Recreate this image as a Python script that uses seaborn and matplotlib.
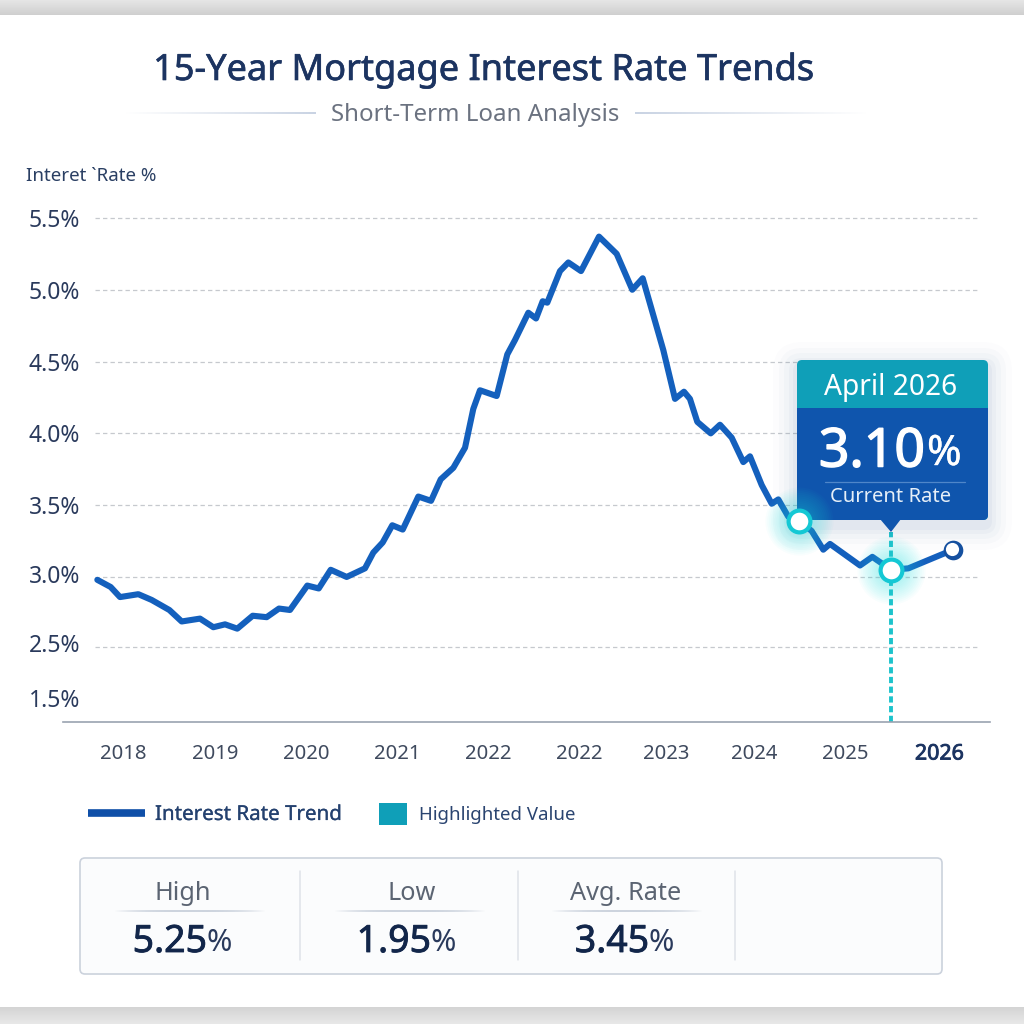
import numpy as np
import pandas as pd
import matplotlib
matplotlib.use("Agg")
import matplotlib.pyplot as plt
import matplotlib.patheffects as pe
import seaborn as sns
from matplotlib.patches import FancyBboxPatch, Rectangle, Polygon
from matplotlib.colors import to_rgb

# ---- data (x is position along the category axis, 0 = first label) ----
period = [-0.283,-0.136,-0.033,0.169,0.316,0.511,0.647,0.849,0.996,1.125,1.260,1.430,1.584,1.720,1.841,
          2.032,2.158,2.290,2.466,2.668,2.760,2.863,2.969,3.084,3.256,3.396,3.503,3.642,3.771,3.862,3.936,
          4.120,4.237,4.322,4.469,4.554,4.627,4.678,4.818,4.910,5.050,5.248,5.443,5.615,5.730,5.957,
          6.086,6.185,6.251,6.332,6.480,6.582,6.711,6.839,6.913,7.042,7.152,7.225,7.335,7.457,7.593,
          7.721,7.795,8.126,8.262,8.468,8.659,9.154]
rate = [2.98,2.93,2.86,2.88,2.84,2.77,2.69,2.71,2.65,2.67,2.64,2.73,2.72,2.78,2.77,
        2.94,2.92,3.05,3.00,3.06,3.17,3.24,3.36,3.33,3.56,3.53,3.68,3.76,3.90,4.17,4.30,
        4.26,4.55,4.65,4.84,4.80,4.92,4.91,5.13,5.19,5.13,5.37,5.25,5.00,5.08,4.58,
        4.24,4.29,4.24,4.08,4.00,4.06,3.97,3.80,3.84,3.64,3.51,3.54,3.42,3.39,3.32,
        3.19,3.23,3.08,3.14,3.05,3.06,3.19]
x_tick_pos = [0, 1.014, 2.018, 3.02, 4.03, 5.03, 5.99, 6.96, 7.96, 9]
x_tick_labels = ["2018","2019","2020","2021","2022","2022","2023","2024","2025","2026"]
y_tick_pos = [5.5, 5.0, 4.5, 4.0, 3.5, 3.02, 2.54, 2.16]
y_tick_labels = ["5.5%","5.0%","4.5%","4.0%","3.5%","3.0%","2.5%","1.5%"]
grid_levels = [5.5, 5.0, 4.5, 4.0, 3.5, 3.0, 2.51]
highlight_x = [7.457, 8.468]
highlight_y = [3.39, 3.05]
end_x = [9.154]
end_y = [3.19]
stat_names = ["High", "Low", "Avg. Rate"]
stat_values = ["5.25", "1.95", "3.45"]

NAVY = "#1c3461"; LINE = "#1460bd"; TEAL = "#0f9fb8"; CYAN = "#14c8d4"; BODY = "#0f55ad"

sns.set_theme(style="white")
plt.rcParams["font.family"] = ["Noto Sans", "DejaVu Sans"]

def heavy(w, color):
    return [pe.withStroke(linewidth=w, foreground=color)]

fig = plt.figure(figsize=(10.24, 10.24), dpi=100, facecolor="white")

deco = fig.add_axes([0, 0, 1, 1], zorder=0)
deco.axis("off")
deco.set_xlim(0, 1024); deco.set_ylim(1024, 0)
pix = deco.transData

def vband(y0, y1, c0, c1):
    c0, c1 = np.array(to_rgb(c0)), np.array(to_rgb(c1))
    t = np.linspace(0, 1, 32)[:, None, None]
    deco.imshow(c0 + (c1 - c0) * t, extent=(0, 1024, y1, y0), aspect="auto", zorder=0)

def hfade(x0, x1, y, color, mode, h=2.0):
    t = np.linspace(0, 1, 128)
    a = {"in": t, "out": 1 - t, "both": np.clip(1 - np.abs(2 * t - 1) ** 3, 0, 1)}[mode]
    img = np.ones((1, 128, 4)); img[..., :3] = to_rgb(color); img[..., 3] = a
    deco.imshow(img, extent=(x0, x1, y + h / 2, y - h / 2), aspect="auto", zorder=1)

vband(0, 15, "#e6e6e6", "#cfcfcf")
vband(1007, 1024, "#d4d4d4", "#e8e8e8")
hfade(125, 316, 113, "#c9d3e3", "in")
hfade(635, 868, 113, "#c9d3e3", "out")

# ---- main chart ----
ax = fig.add_axes([63/1024, (1024-722)/1024, (990-63)/1024, (722-200)/1024], zorder=1)
ax.patch.set_visible(False)
df = pd.DataFrame({"period": period, "rate": rate})
ax.hlines(grid_levels, -0.309, 9.45, colors="#c6c9ce", linestyles=(0, (3.5, 2.5)), linewidth=0.9, zorder=1)
sns.lineplot(data=df, x="period", y="rate", ax=ax, color=LINE, linewidth=4.4, errorbar=None,
             solid_joinstyle="round", solid_capstyle="round", zorder=3)
ax.set_xlim(-0.6615, 9.559)
ax.set_ylim(1.99, 5.625)
sns.despine(ax=ax, left=True)
ax.spines["bottom"].set_color("#9aa3b0"); ax.spines["bottom"].set_linewidth(1.2)

ax.set_xticks(x_tick_pos, x_tick_labels)
ax.set_yticks(y_tick_pos, y_tick_labels)
ax.tick_params(axis="x", length=0, pad=15.5, labelsize=14.6, labelcolor="#3f4a5e")
ax.tick_params(axis="y", length=0, pad=-12.5, labelsize=16.5, labelcolor="#2a3a5c")
xl = ax.get_xticklabels()[-1]
xl.set_color(NAVY); xl.set_fontsize(15.4); xl.set_path_effects(heavy(0.6, NAVY))
ax.set_title("15-Year Mortgage Interest Rate Trends", x=(484-63)/927, y=(722-71)/522, va="center",
             fontsize=26, color=NAVY, pad=0, path_effects=heavy(0.45, NAVY))
deco.text(475, 115, "Short-Term Loan Analysis", ha="center", va="center", fontsize=17.3, color="#6b7280")

# vertical guide
ax.vlines(highlight_x[1], 1.99, 3.31, colors="#1cc3cc", linewidth=2.8, linestyles=(0, (1.6, 0.9)), zorder=2)

# ---- callout ----
box = dict(boxstyle="round,pad=0,rounding_size=5", transform=pix)
for grow, al in zip([24, 18, 13, 8, 4], [0.012, 0.018, 0.025, 0.03, 0.04]):
    ax.add_patch(FancyBboxPatch((797-grow, 360-grow+6), 191+2*grow, 160+2*grow,
                                boxstyle=f"round,pad=0,rounding_size={5+grow}", transform=pix, clip_on=False,
                                facecolor="#1f4f8f", edgecolor="none", alpha=al, zorder=4))
headp = FancyBboxPatch((797, 360), 191, 160, facecolor=TEAL, edgecolor="none", zorder=5, clip_on=False, **box)
ax.add_patch(headp)
bodyp = FancyBboxPatch((797, 360), 191, 160, facecolor=BODY, edgecolor="none", zorder=5.1, **box)
ax.add_patch(bodyp)
bodyp.set_clip_box(Rectangle((790, 407.5), 210, 120, transform=pix).get_window_extent(fig.canvas.get_renderer()))
ax.add_patch(Polygon([(880, 519), (901, 519), (891, 532)], closed=True, facecolor=BODY, edgecolor="none",
                     transform=pix, clip_on=False, zorder=5.1))
ax.plot([825, 965], [482, 482], color="#4f86c9", lw=0.9, transform=pix, clip_on=False, zorder=5.2)
tt = dict(transform=pix, color="white", zorder=5.3, va="center", clip_on=False)
ax.text(891, 387, "April 2026", ha="center", fontsize=20.3, **tt)
ax.text(925, 453, "3.10", ha="right", fontsize=38.5, path_effects=heavy(1.1, "white"), **tt)
ax.text(927, 454, "%", ha="left", fontsize=30, path_effects=heavy(0.3, "white"), **tt)
ax.text(891, 497, "Current Rate", ha="center", fontsize=14.5, transform=pix, color="#e6eff8", zorder=5.3,
        va="center", clip_on=False)

# ---- markers ----
for r in np.linspace(34, 14, 12):
    ax.scatter(highlight_x, highlight_y, s=(1.44 * r) ** 2, color="#27e3ea", alpha=0.032, linewidths=0,
               zorder=6, clip_on=False)
sns.scatterplot(x=highlight_x, y=highlight_y, ax=ax, s=246, color="white", edgecolor=CYAN, linewidth=3,
                zorder=7, legend=False)
sns.scatterplot(x=end_x, y=end_y, ax=ax, s=200, color="#15509f", linewidth=0, zorder=7, legend=False)
ax.plot([end_x[0] - 0.012], [end_y[0] + 0.007], "o", ms=9.5, mfc="white", mec="none", zorder=8)
ax.set_xlabel("")
ax.set_ylabel("Interet `Rate %", rotation=0, ha="left", va="center", fontsize=13.5, color="#2a3f63")
ax.yaxis.set_label_coords(26, 176, transform=pix)

# ---- legend ----
deco.plot([88, 145], [813, 813], color="#0f4fa8", lw=5.5, solid_capstyle="butt", zorder=2)
deco.text(155, 815, "Interest Rate Trend", fontsize=14.8, color="#24416f", va="center", ha="left",
          path_effects=heavy(0.15, "#24416f"))
deco.add_patch(Rectangle((379, 803), 28, 22, facecolor=TEAL, edgecolor="none", zorder=2))
deco.text(419, 815, "Highlighted Value", fontsize=13.4, color="#2a4470", va="center", ha="left")

# ---- stats panel ----
deco.add_patch(FancyBboxPatch((80, 858), 862, 116, boxstyle="round,pad=0,rounding_size=5",
                              facecolor="#fbfcfd", edgecolor="#cbd2dc", linewidth=1.2, zorder=1))
for xd in [300, 518, 735]:
    deco.plot([xd, xd], [871, 960], color="#dfe3e9", lw=1.1, zorder=2)
label_centers = [183, 412, 626]
rule_centers = [190, 410, 627]
splits = [207, 431, 649]
for name, val, c, rc, sp in zip(stat_names, stat_values, label_centers, rule_centers, splits):
    deco.text(c, 893, name, ha="center", va="center", fontsize=18.2, color="#5b6472", zorder=3)
    hfade(rc - 76, rc + 76, 911, "#cdd4de", "both", h=2)
    deco.text(sp, 942, val, ha="right", va="center", fontsize=27, color="#12264a", zorder=3,
              path_effects=heavy(0.6, "#12264a"))
    deco.text(sp, 943, "%", ha="left", va="center", fontsize=22, color="#2a3a5c", zorder=3)

deco.set_xlim(0, 1024); deco.set_ylim(1024, 0)
fig.savefig("out.png", dpi=100, facecolor="white")
